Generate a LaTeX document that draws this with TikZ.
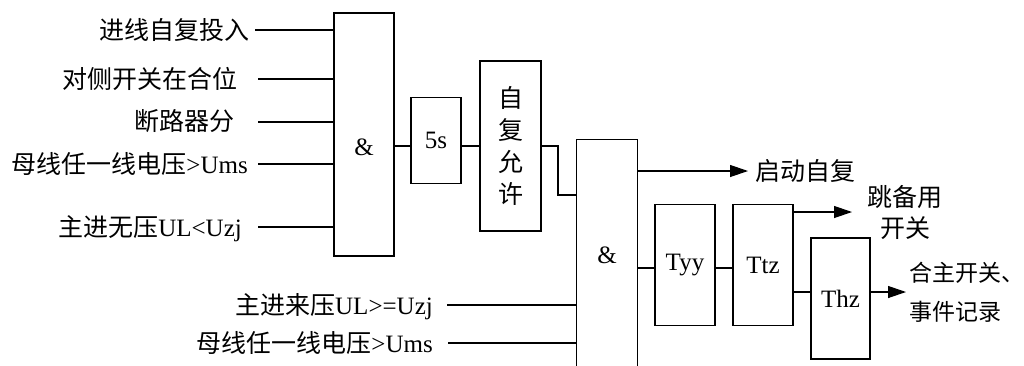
\documentclass[tikz,border=0pt]{standalone}
\usepackage{fontspec}
\setmainfont{Liberation Serif}
\newfontfamily\cjk{Noto Sans CJK SC}
\usetikzlibrary{arrows.meta,calc}
\begin{document}
\begin{tikzpicture}[x=1pt,y=-1pt,
  every node/.style={font=\fontsize{25}{30}\selectfont, inner sep=0pt},
  box/.style={draw, line width=1.2pt},
  wire/.style={line width=1.2pt},
  arr/.style={line width=1.2pt, -{Triangle[length=18pt,width=12pt]}},
  lbl/.style={anchor=base east}]
\useasboundingbox[fill=white] (0,0) rectangle (1024,365);

% gates and delay boxes
\node[box, minimum width=60pt, minimum height=243pt,
  label={[yshift=-12.5pt]center:\&}] (g1) at (364,134.5) {};
\node[box, minimum width=50pt, minimum height=86pt] (d5) at (436,140.5) {5s};
\node[box, minimum width=61pt, minimum height=170pt, align=center,
  font=\fontsize{25}{32}\selectfont\cjk] (en) at (510.5,146) {自\\复\\允\\许};
\node[minimum width=60pt, minimum height=240pt,
  label={[yshift=5pt]center:\&}] (g2) at (607,260) {};
\draw[wire] (g2.south west) -- (g2.north west) -- (g2.north east) -- (g2.south east);
\node[box, minimum width=60pt, minimum height=121pt] (tyy) at (685,265) {Tyy};
\node[box, minimum width=60pt, minimum height=121pt] (ttz) at (763,265) {Ttz};
\node[box, minimum width=59pt, minimum height=121pt] (thz) at (840.5,298.5) {Thz};

% input texts
\node[lbl] (t1) at (250,39) {\cjk 进线自复投入};
\node[lbl] (t2) at (238,88) {\cjk 对侧开关在合位};
\node[lbl] (t3) at (235,130) {\cjk 断路器分};
\node[lbl] (t4) at (248,173) {{\cjk 母线任一线电压}>Ums};
\node[lbl] (t5) at (242,236) {{\cjk 主进无压}UL<Uzj};
\node[lbl] (t6) at (433,314) {{\cjk 主进来压}UL>=Uzj};
\node[lbl] (t7) at (433,352) {{\cjk 母线任一线电压}>Ums};

% input line start points
\coordinate (i1) at (255,30);
\coordinate (i2) at (258,79);
\coordinate (i3) at (258,122);
\coordinate (i4) at (258,164);
\coordinate (i5) at (258,227);
\coordinate (i6) at (447,305);
\coordinate (i7) at (448,343);
\foreach \i in {1,...,5} \draw[wire] (i\i) -- (i\i -| g1.west);
\foreach \i in {6,7} \draw[wire] (i\i) -- (i\i -| g2.west);

% internal rows
\coordinate (r1) at (0,146);
\coordinate (k1) at (558,195);
\coordinate (r3) at (0,268);
\coordinate (r4) at (0,292);
\draw[wire] (g1.east |- r1) -- (d5.west |- r1);
\draw[wire] (d5.east |- r1) -- (en.west |- r1);
\draw[wire] (en.east |- r1) -| (k1) -- (k1 -| g2.west);
\draw[wire] (g2.east |- r3) -- (tyy.west |- r3);
\draw[wire] (tyy.east |- r3) -- (ttz.west |- r3);
\draw[wire] (ttz.east |- r4) -- (thz.west |- r4);

% outputs
\coordinate (o1) at (748,171);
\coordinate (o2) at (852,212);
\coordinate (o3) at (906,292);
\draw[arr] (g2.east |- o1) -- (o1);
\draw[arr] (ttz.east |- o2) -- (o2);
\draw[arr] (thz.east |- o3) -- (o3);
\node[anchor=base west, font=\fontsize{25}{30}\selectfont\cjk] (q1) at (755,180) {启动自复};
\node[align=center, font=\fontsize{25}{31}\selectfont\cjk] (q2) at (905,212.5) {跳备用\\开关};
\node[anchor=west, align=left, font=\fontsize{23}{39}\selectfont\cjk] (q3) at (909,292.5) {合主开关、\\事件记录};
\end{tikzpicture}
\end{document}
